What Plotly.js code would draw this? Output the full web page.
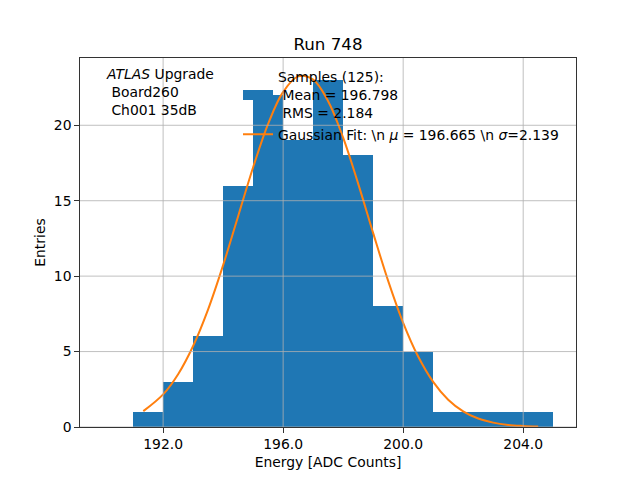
<!DOCTYPE html>
<html>
<head>
<meta charset="utf-8">
<script src="https://cdn.plot.ly/plotly-3.0.1.min.js"></script>
<style>html,body{margin:0;padding:0;background:#fff;}#chart{width:640px;height:480px;}</style>
</head>
<body>
<div id="chart"></div>
<script>
// Histogram: left bin edges and counts (bin width 1)
const binLeft = [190, 191, 192, 193, 194, 195, 196, 197, 198, 199, 200, 201, 202, 203, 204];
const counts  = [0,   1,   3,   6,   16,  22,  19,  23,  18,  8,   5,   1,   1,   1,   1];
// Gaussian fit curve
const fitX = [191.34, 192, 192.5, 193, 193.5, 194, 194.5, 195, 195.5, 196, 196.5, 197, 197.5, 198, 198.5, 199, 199.5, 200, 200.5, 201, 201.5, 202, 202.5, 203, 203.5, 204, 204.5];
const fitY = [1.05, 2.16, 3.50, 5.37, 7.80, 10.73, 13.97, 17.22, 20.10, 22.21, 23.24, 23.03, 21.60, 19.18, 16.13, 12.85, 9.69, 6.91, 4.67, 2.99, 1.81, 1.04, 0.56, 0.29, 0.14, 0.07, 0.03];
const xTickVals = [192, 196, 200, 204];
const yTickVals = [0, 5, 10, 15, 20];
const histName = "Samples (125):<br>\u00a0Mean = 196.798<br>\u00a0RMS = 2.184";
const fitName = "Gaussian Fit: \\n <i>\u03bc</i> = 196.665 \\n <i>\u03c3</i>=2.139";
const titleText = "Run 748";
const xTitle = "Energy [ADC Counts]";
const yTitle = "Entries";
const labelText = "<i>ATLAS</i> Upgrade<br>\u00a0Board260<br>\u00a0Ch001 35dB";

const FONT = "DejaVu Sans, sans-serif";
const fs = 13.9;
const BLUE = '#1f77b4', ORANGE = '#ff7f0e';

const traces = [
  {
    type: 'bar', x: binLeft, y: counts, width: 1, offset: 0,
    marker: {color: BLUE, line: {width: 0}},
    name: histName, showlegend: false
  },
  // legend handle for the histogram (a filled patch, like matplotlib's)
  {
    type: 'scatter', mode: 'lines', x: [null], y: [null],
    line: {color: BLUE, width: 10},
    name: histName, showlegend: true, hoverinfo: 'skip'
  },
  {
    type: 'scatter', mode: 'lines', x: fitX, y: fitY,
    line: {color: ORANGE, width: 2, shape: 'spline'},
    name: fitName
  }
];

const shapes = [];
xTickVals.forEach(v => shapes.push({type: 'line', xref: 'x', yref: 'paper', x0: v, x1: v, y0: 0, y1: 1, layer: 'above', line: {color: '#b0b0b0', width: 0.8}}));
yTickVals.forEach(v => shapes.push({type: 'line', xref: 'paper', yref: 'y', x0: 0, x1: 1, y0: v, y1: v, layer: 'above', line: {color: '#b0b0b0', width: 0.8}}));

const layout = {
  width: 640, height: 480,
  margin: {l: 80, r: 64, t: 57.6, b: 52.8, pad: 0},
  paper_bgcolor: '#fff', plot_bgcolor: '#fff',
  font: {family: FONT, size: fs, color: '#000'},
  bargap: 0,
  title: {text: titleText, font: {family: FONT, size: 16.7, color: '#000'}, xref: 'paper', x: 0.5, xanchor: 'center', yref: 'container', y: 1 - 44/480, yanchor: 'middle'},
  xaxis: {
    range: [189.23, 205.76], tickvals: xTickVals, tickformat: '.1f',
    showgrid: false, zeroline: false, showline: true, mirror: true, linecolor: '#000', linewidth: 0.8,
    ticks: 'outside', ticklen: 4.9, tickwidth: 0.8, tickcolor: '#000',
    tickfont: {family: FONT, size: fs, color: '#000'},
    title: {text: xTitle, font: {family: FONT, size: fs, color: '#000'}, standoff: 5}
  },
  yaxis: {
    range: [0, 24.46], tickvals: yTickVals,
    showgrid: false, zeroline: false, showline: true, mirror: true, linecolor: '#000', linewidth: 0.8,
    ticks: 'outside', ticklen: 4.9, tickwidth: 0.8, tickcolor: '#000',
    tickfont: {family: FONT, size: fs, color: '#000'},
    title: {text: yTitle, font: {family: FONT, size: fs, color: '#000'}, standoff: 4}
  },
  showlegend: true,
  legend: {
    x: (238 - 80) / 496, y: (427.2 - 61) / 369.6, xanchor: 'left', yanchor: 'top',
    bgcolor: 'rgba(0,0,0,0)', borderwidth: 0,
    font: {family: FONT, size: fs, color: '#000'},
    tracegroupgap: 0
  },
  shapes: shapes,
  annotations: [{
    text: labelText, xref: 'paper', yref: 'paper', x: (104 - 80) / 496, y: (427.2 - 64) / 369.6,
    xanchor: 'left', yanchor: 'top', align: 'left', showarrow: false,
    font: {family: FONT, size: fs, color: '#000'}
  }]
};

Plotly.newPlot('chart', traces, layout, {displayModeBar: false, staticPlot: true});
</script>
</body>
</html>
